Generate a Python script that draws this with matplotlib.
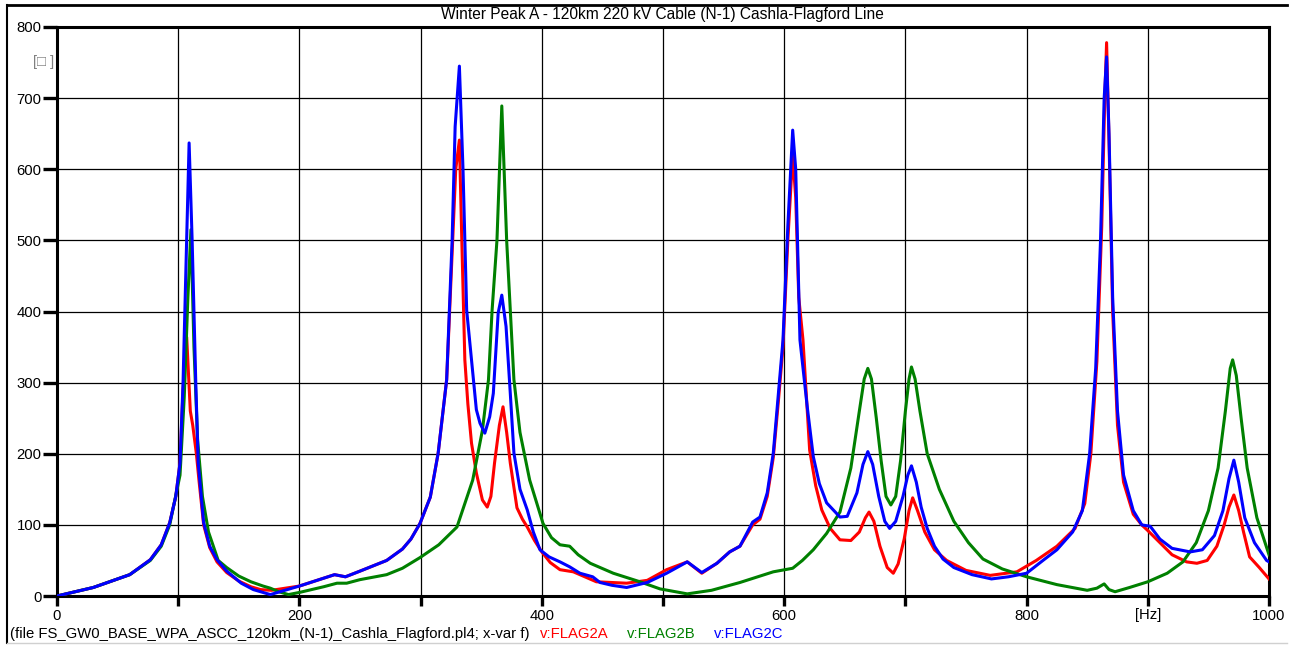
import matplotlib
matplotlib.use("Agg")
import matplotlib.pyplot as plt
from matplotlib.lines import Line2D

plt.rcParams['font.family'] = ['Liberation Sans', 'DejaVu Sans']

title = "Winter Peak A - 120km 220 kV Cable (N-1) Cashla-Flagford Line"
file_note = "(file FS_GW0_BASE_WPA_ASCC_120km_(N-1)_Cashla_Flagford.pl4; x-var f)"
series_names = ["v:FLAG2A", "v:FLAG2B", "v:FLAG2C"]
series_colors = ["#ff0000", "#008000", "#0000ff"]

# FLAG2A (red)
f_a = [0, 30, 60, 77, 86, 93, 98, 101.5, 104, 107, 110, 111, 112, 115, 117, 121, 126, 132,
       140, 150, 160, 168, 177,
       200, 229, 238, 250, 272, 285, 292, 299.5, 308, 314.5, 321.5, 326, 329, 332, 334,
       336.5, 339, 342, 346, 351, 355, 358, 361, 365, 368, 371, 374, 379.5, 384, 388, 394,
       400, 407, 415, 426, 445, 470, 487,
       503, 520, 532, 544.5, 555, 563.5, 574, 580, 586, 591, 595, 599, 603, 607, 609.5,
       612, 615.5, 621, 626, 631, 638, 646, 655, 662, 667, 670, 674, 679, 685, 690, 694,
       699, 703, 706, 710, 716, 724, 734, 750, 770, 792, 808, 825, 840, 848, 853, 858, 862,
       864.5, 866, 868, 871, 875, 880, 888, 895, 900, 910, 920, 932, 940.5, 949, 957, 963,
       967, 971, 975, 979, 984, 992, 1000]
v_a = [0, 12, 30, 51, 72, 103, 140, 187, 290, 364, 260, 250, 240, 200, 165, 100, 68, 48,
       33, 21, 13, 9, 8,
       14, 30, 27, 35, 50, 66, 80, 102, 139, 201, 304, 480, 600, 641, 500,
       332, 270, 215, 173, 135, 125, 140, 187, 240, 266, 230, 187, 124, 108, 97, 78,
       62, 47, 37, 34, 20, 18, 22,
       37, 48, 32, 46, 62, 70, 100, 108, 140, 195, 270, 350, 500, 620, 560,
       420, 360, 205, 155, 121, 95, 79, 78, 90, 110, 118, 105, 70, 40, 32, 45,
       80, 120, 138, 120, 90, 65, 50, 36, 29, 34, 50, 70, 95, 130, 200, 330, 520,
       700, 778, 640, 400, 240, 160, 115, 100, 92, 75, 58, 48, 46, 50, 70, 100,
       125, 142, 120, 90, 55, 40, 24]

# FLAG2B (green)
f_b = [0, 30, 60, 77, 86, 93, 101.5, 105, 108, 110.5, 113, 116, 120, 125, 133, 140, 150,
       160, 170, 176, 183, 191,
       200, 220, 231, 239, 250, 272, 285, 299.5, 315, 330, 343, 351, 356, 359, 363, 367,
       371, 377, 382, 390, 401, 408, 415, 423, 430, 440, 459, 481, 497.5, 520, 540, 563.5,
       591, 607, 615, 624, 635,
       646, 655, 662, 666, 669, 672, 676, 680, 684, 688, 692, 696, 700, 703, 705, 708, 712,
       718, 728, 740, 752, 764, 780, 800, 825, 850, 858, 864, 868, 873, 885, 900, 916, 929,
       940, 950, 958, 964, 968, 970, 973, 977, 982, 990, 1000]
v_b = [0, 12, 30, 50, 70, 100, 170, 280, 420, 515, 350, 220, 140, 90, 50, 40, 28,
       20, 14, 11, 6, 2,
       5, 13, 18, 18, 23, 30, 39, 54, 72, 97, 163, 233, 304, 402, 500, 689,
       500, 304, 230, 163, 102, 82, 72, 70, 58, 46, 32, 20, 10, 3, 8, 19,
       34, 39, 50, 65, 88,
       118, 180, 260, 305, 320, 305, 250, 190, 140, 128, 140, 190, 260, 305, 322, 305, 260,
       200, 150, 105, 75, 52, 38, 27, 16, 8, 11, 17, 9, 6, 12, 20, 32, 48,
       75, 120, 180, 260, 320, 332, 310, 250, 180, 110, 58]

# FLAG2C (blue)
f_c = [0, 30, 60, 77, 86, 93, 98, 101.5, 104, 107, 109, 111.5, 114.5, 116.5, 121, 126, 132,
       140, 152, 162, 170, 176,
       200, 229, 238, 250, 272, 285, 292, 299.5, 308, 314.5, 321.5, 326, 328.5, 332, 335,
       338, 342, 346, 349, 353, 357, 360, 364, 367, 370.5, 374, 377, 382, 388, 393, 398.5,
       406, 415, 423, 431.5, 442, 448, 458, 470, 487, 503, 520, 532, 544.5, 555, 563.5,
       574, 580, 586, 591, 595, 599, 603, 607, 609.5, 613, 619, 624, 629, 635, 646, 652,
       660, 665, 669, 673, 678, 683, 687, 692, 698, 702, 705, 709, 713, 718, 724, 731, 740,
       755, 771, 785, 800, 813.5, 825, 838, 846, 852, 857, 861, 864, 866, 868, 871, 875,
       880, 888, 895, 902, 910, 920, 935, 945, 955, 962, 967, 971, 975, 980, 988, 998, 1000]
v_c = [0, 12, 30, 51, 72, 103, 140, 187, 300, 500, 637, 500, 300, 187, 103, 70, 51,
       35, 18, 9, 5, 2,
       14, 30, 27, 35, 50, 66, 80, 102, 139, 201, 304, 500, 660, 745, 599,
       402, 332, 262, 243, 229, 252, 285, 398, 423, 379, 285, 201, 150, 121, 90, 65,
       55, 48, 41, 32, 27, 19, 15, 12, 19, 32, 48, 33, 46, 62, 70,
       104, 111, 145, 201, 280, 360, 520, 655, 600, 360, 266, 196, 158, 131, 111, 112,
       145, 185, 203, 185, 140, 105, 95, 105, 140, 170, 183, 160, 125, 95, 70, 52, 40,
       30, 24, 27, 32, 50, 65, 90, 120, 200, 320, 500, 700, 758, 650, 420, 260,
       170, 120, 100, 98, 80, 67, 62, 65, 85, 120, 165, 191, 160, 110, 75, 50, 48]

W, H = 1291, 646
fig = plt.figure(figsize=(W / 100, H / 100), dpi=100)
ax = fig.add_axes([57 / W, 1 - 596 / H, (1269 - 57) / W, (596 - 27) / H])

for fx, vy, col in zip([f_a, f_b, f_c], [v_a, v_b, v_c], series_colors):
    ax.plot(fx, vy, color=col, lw=2.2, solid_joinstyle='round', zorder=3)

ax.set_xlim(0, 1000)
ax.set_ylim(0, 800)
ax.set_xticks(range(0, 1001, 100))
ax.set_xticklabels(["0", "", "200", "", "400", "", "600", "", "800", "[Hz]", "1000"])
ax.set_yticks(range(0, 801, 100))
ax.set_yticklabels([str(v) for v in range(0, 801, 100)])
ax.grid(True, color='black', lw=0.9, zorder=1)
for s in ax.spines.values():
    s.set_linewidth(2.2)
ax.tick_params(axis='y', direction='out', length=10, width=2.4, labelsize=10.7, pad=1)
ax.tick_params(axis='x', direction='out', length=7, width=2.4, labelsize=10.7, pad=2)

ax.text(-0.002, 0.938, "[\u25a1 ]", transform=ax.transAxes, ha='right', va='center',
        fontsize=10.7, color='#808080')

# outer frame
fig.add_artist(Line2D([7 / W, 1287 / W], [1 - 5 / H, 1 - 5 / H], color='black', lw=2,
                      transform=fig.transFigure))
fig.add_artist(Line2D([7 / W, 7 / W], [1 - 5 / H, 1 - 643 / H], color='black', lw=1.5,
                      transform=fig.transFigure))
fig.add_artist(Line2D([7 / W, 1287 / W], [1 - 643 / H, 1 - 643 / H], color='#d0d0d0', lw=1,
                      transform=fig.transFigure))

fig.text(662 / W, 1 - 15 / H, title, ha='center', va='center', fontsize=11.2)
fig.text(10 / W, 1 - 634 / H, file_note, ha='left', va='center', fontsize=10.7)
for name, col, xp in zip(series_names, series_colors, [540, 627, 714]):
    fig.text(xp / W, 1 - 634 / H, name, ha='left', va='center', fontsize=10.7, color=col)

fig.savefig("out.png", dpi=100)
